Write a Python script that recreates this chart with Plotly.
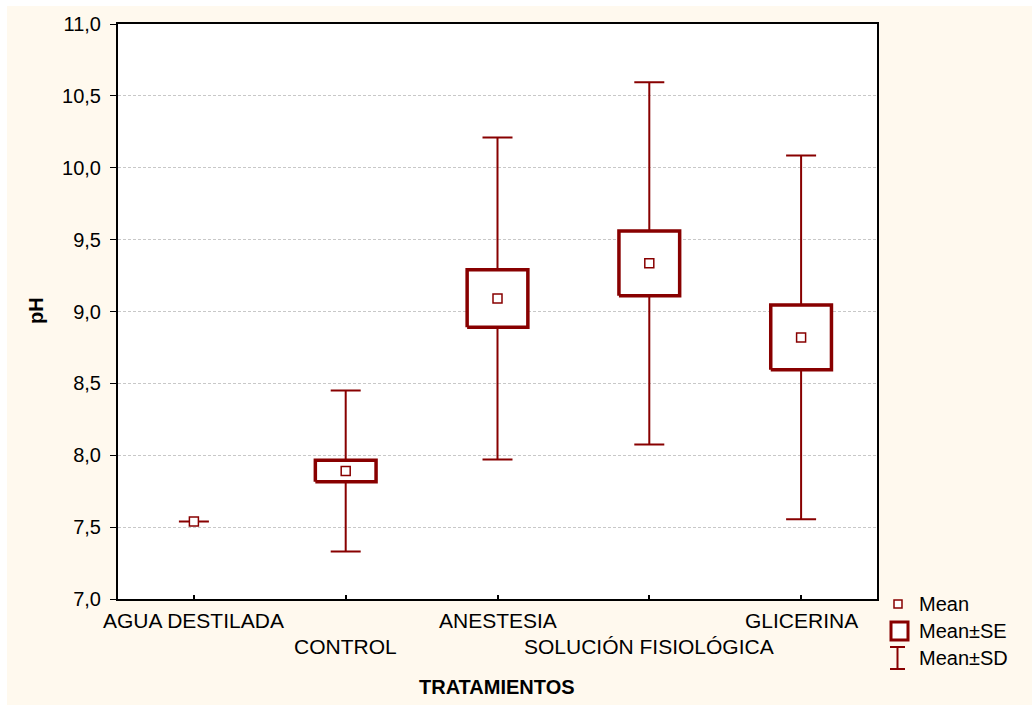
import plotly.graph_objects as go

# ---- data ----
categories = ["AGUA DESTILADA", "CONTROL", "ANESTESIA", "SOLUCIÓN FISIOLÓGICA", "GLICERINA"]
label_row = [0, 1, 0, 1, 0]          # staggered tick labels
mean_ph = [7.54, 7.89, 9.09, 9.335, 8.82]
se_ph = [0.0, 0.075, 0.20, 0.225, 0.225]
sd_ph = [0.0, 0.56, 1.12, 1.26, 1.265]
y_ticks = [7.0, 7.5, 8.0, 8.5, 9.0, 9.5, 10.0, 10.5, 11.0]
legend_labels = ["Mean", "Mean±SE", "Mean±SD"]

# ---- style ----
RED = "#880000"
CREAM = "#FFF9EE"
FONT = "Liberation Sans, Arial, sans-serif"
W, H = 1032, 705
PL, PR, PT, PB = 118, 877, 24, 599
BOX_HALF = 0.2


def px_x(p):
    return (p - PL) / (PR - PL)


def px_y(p):
    return (PB - p) / (PB - PT)


xpos = list(range(len(categories)))

fig = go.Figure()

# whiskers (Mean ± SD)
fig.add_trace(go.Scatter(
    x=xpos, y=mean_ph, mode="markers",
    marker=dict(size=1, opacity=0),
    error_y=dict(type="data", array=sd_ph, visible=True, color=RED, thickness=2, width=15),
    showlegend=False, hoverinfo="skip",
))

# boxes (Mean ± SE)
for xi, m, s in zip(xpos, mean_ph, se_ph):
    if s <= 0:
        continue
    fig.add_trace(go.Scatter(
        x=[xi - BOX_HALF, xi + BOX_HALF, xi + BOX_HALF, xi - BOX_HALF, xi - BOX_HALF],
        y=[m - s, m - s, m + s, m + s, m - s],
        mode="lines", fill="toself", fillcolor="white",
        line=dict(color=RED, width=3.5),
        showlegend=False, hoverinfo="skip",
    ))

# means
fig.add_trace(go.Scatter(
    x=xpos, y=mean_ph, mode="markers",
    marker=dict(symbol="square", size=9, color="white", line=dict(color=RED, width=1.5)),
    showlegend=False,
))

annotations = []
# category labels
for xi, name, row in zip(xpos, categories, label_row):
    annotations.append(dict(
        x=xi, xref="x", y=px_y(620 if row == 0 else 646), yref="paper",
        text=name, showarrow=False, xanchor="center", yanchor="middle",
        font=dict(family=FONT, size=21, color="black"),
    ))
# axis titles
annotations.append(dict(
    x=px_x(497), xref="paper", y=px_y(687), yref="paper", text="<b>TRATAMIENTOS</b>",
    showarrow=False, xanchor="center", yanchor="middle",
    font=dict(family=FONT, size=20, color="black"),
))
annotations.append(dict(
    x=px_x(36), xref="paper", y=px_y(311), yref="paper", text="<b>pH</b>", textangle=-90,
    showarrow=False, xanchor="center", yanchor="middle",
    font=dict(family=FONT, size=20, color="black"),
))
# legend texts
for lbl, py in zip(legend_labels, [604, 631, 658]):
    annotations.append(dict(
        x=px_x(917), xref="paper", y=px_y(py), yref="paper", text=lbl,
        showarrow=False, xanchor="left", yanchor="middle",
        font=dict(family=FONT, size=20, color="black"),
    ))

shapes = [
    # white border strips around the cream page
    dict(type="rect", xref="paper", yref="paper", x0=px_x(0), x1=px_x(7), y0=px_y(H), y1=px_y(0),
         fillcolor="white", line=dict(width=0), layer="below"),
    dict(type="rect", xref="paper", yref="paper", x0=px_x(0), x1=px_x(W), y0=px_y(6), y1=px_y(0),
         fillcolor="white", line=dict(width=0), layer="below"),
    # legend symbols
    dict(type="rect", xref="paper", yref="paper", x0=px_x(894), x1=px_x(902), y0=px_y(608), y1=px_y(600),
         fillcolor="white", line=dict(color=RED, width=1.5)),
    dict(type="rect", xref="paper", yref="paper", x0=px_x(891), x1=px_x(908), y0=px_y(640), y1=px_y(622),
         fillcolor="white", line=dict(color=RED, width=3)),
    dict(type="line", xref="paper", yref="paper", x0=px_x(897.5), x1=px_x(897.5), y0=px_y(669), y1=px_y(647),
         line=dict(color=RED, width=2)),
    dict(type="line", xref="paper", yref="paper", x0=px_x(890), x1=px_x(905), y0=px_y(647), y1=px_y(647),
         line=dict(color=RED, width=2)),
    dict(type="line", xref="paper", yref="paper", x0=px_x(890), x1=px_x(905), y0=px_y(669), y1=px_y(669),
         line=dict(color=RED, width=2)),
]

fig.update_layout(
    width=W, height=H,
    margin=dict(l=PL, r=W - PR, t=PT, b=H - PB, pad=0),
    paper_bgcolor=CREAM, plot_bgcolor="white",
    separators=",.",
    showlegend=False,
    font=dict(family=FONT, size=20, color="black"),
    annotations=annotations,
    shapes=shapes,
)
fig.update_xaxes(
    range=[-0.5, len(categories) - 0.5],
    tickvals=xpos, ticktext=[""] * len(categories), showticklabels=False,
    ticks="inside", ticklen=4, tickwidth=1.5, tickcolor="black",
    showline=True, linecolor="black", linewidth=2, mirror=True,
    showgrid=False, zeroline=False,
)
fig.update_yaxes(
    range=[7.0, 11.0], tickvals=y_ticks, tickformat=".1f",
    ticks="outside", ticklen=6, tickwidth=1, tickcolor="black",
    tickfont=dict(family=FONT, size=20, color="black"),
    showline=True, linecolor="black", linewidth=2, mirror=True,
    showgrid=True, gridcolor="#c8c8c8", gridwidth=1, griddash="3px,2px",
    zeroline=False, ticklabelstandoff=5,
)

fig.write_html("out.html")
